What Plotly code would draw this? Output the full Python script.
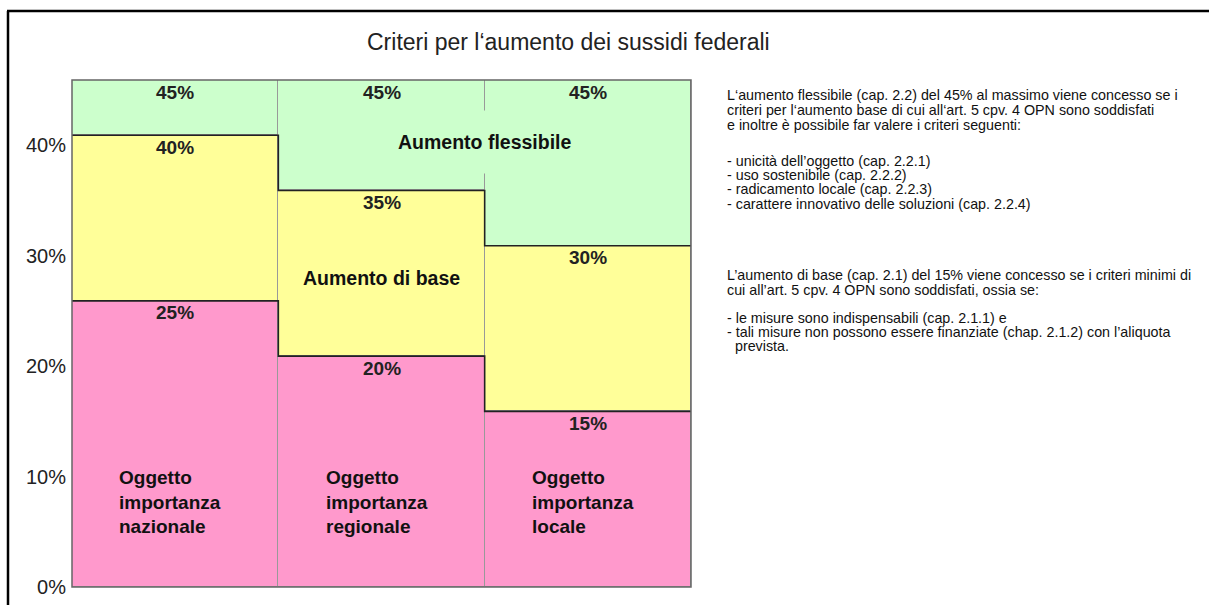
import plotly.graph_objects as go

# ---------------- data ----------------
columns = [0, 1, 2]
column_labels = [
    "Oggetto<br>importanza<br>nazionale",
    "Oggetto<br>importanza<br>regionale",
    "Oggetto<br>importanza<br>locale",
]
object_top = [25, 20, 15]      # pink: Oggetto (importanza)
basic_top = [40, 35, 30]       # yellow: Aumento di base
flex_top = [45, 45, 45]        # green: Aumento flessibile
y_tick_values = [0, 10, 20, 30, 40]
y_tick_labels = ["0%", "10%", "20%", "30%", "40%"]

title_text = "Criteri per l‘aumento dei sussidi federali"
flex_label = "Aumento flessibile"
basic_label = "Aumento di base"

note_flex = [
    "L‘aumento flessibile (cap. 2.2) del 45% al massimo viene concesso se i",
    "criteri per l‘aumento base di cui all‘art. 5 cpv. 4 OPN sono soddisfati",
    "e inoltre è possibile far valere i criteri seguenti:",
    "- unicità dell’oggetto (cap. 2.2.1)",
    "- uso sostenibile (cap. 2.2.2)",
    "- radicamento locale (cap. 2.2.3)",
    "- carattere innovativo delle soluzioni (cap. 2.2.4)",
]
note_basic = [
    "L’aumento di base (cap. 2.1) del 15% viene concesso se i criteri minimi di",
    "cui all’art. 5 cpv. 4 OPN sono soddisfati, ossia se:",
    "- le misure sono indispensabili (cap. 2.1.1) e",
    "- tali misure non possono essere finanziate (chap. 2.1.2) con l’aliquota",
    "\u00a0\u00a0prevista.",
]

# ---------------- layout constants ----------------
W, H = 1209, 605
L, R, T, B = 72, 518, 80, 18
Y_MIN, Y_MAX = -0.9, 45
PINK, YELLOW, GREEN = "#FF99CC", "#FFFF99", "#CCFFCC"
FONT = "Liberation Sans, Arial, sans-serif"
PW, PH = W - L - R, H - T - B


def px2x(px):
    return (px - L) / PW


def py2y(py):
    return (H - B - py) / PH


fig = go.Figure()

outline = dict(color="#999999", width=1)
fig.add_trace(go.Bar(x=columns, y=[t - Y_MIN for t in object_top], base=[Y_MIN] * 3,
                     width=1, marker=dict(color=PINK, line=outline), hoverinfo="skip"))
fig.add_trace(go.Bar(x=columns, y=[b - a for a, b in zip(object_top, basic_top)], base=object_top,
                     width=1, marker=dict(color=YELLOW, line=outline), hoverinfo="skip"))
fig.add_trace(go.Bar(x=columns, y=[f - b for b, f in zip(basic_top, flex_top)], base=basic_top,
                     width=1, marker=dict(color=GREEN, line=outline), hoverinfo="skip"))

# step boundaries between segments
edges = [c - 0.5 for c in columns] + [columns[-1] + 0.5]
for tops in (object_top, basic_top):
    fig.add_trace(go.Scatter(x=edges, y=tops + [tops[-1]], mode="lines",
                             line=dict(color="#222222", width=1.6, shape="hv"),
                             hoverinfo="skip"))

ann = []
# value labels at top of each segment
for tops in (object_top, basic_top, flex_top):
    for c, t in zip(columns, tops):
        ann.append(dict(x=c, y=t, xref="x", yref="y", text=f"{t}%", showarrow=False,
                        yanchor="middle", yshift=-12,
                        font=dict(family=FONT, size=19, color="#222222", weight="bold")))
# column labels
for c, lab in zip(columns, column_labels):
    ann.append(dict(x=c - 0.28, y=6.8, xref="x", yref="y", text=lab, showarrow=False,
                    xanchor="left", yanchor="middle", align="left",
                    font=dict(family=FONT, size=19, color="#111111", weight="bold")))
# segment names
ann.append(dict(x=1.5, y=39.4, xref="x", yref="y", text=flex_label, showarrow=False,
                bgcolor=GREEN, borderpad=20,
                font=dict(family=FONT, size=19.5, color="#111111", weight="bold")))
ann.append(dict(x=1, y=27.1, xref="x", yref="y", text=basic_label, showarrow=False,
                font=dict(family=FONT, size=19.5, color="#111111", weight="bold")))
# title
ann.append(dict(x=px2x(568), y=py2y(42), xref="paper", yref="paper", text=title_text,
                showarrow=False, xanchor="center", yanchor="middle",
                font=dict(family=FONT, size=23, color="#222222")))
# notes
flex_y = [95, 110, 124.5, 161, 175, 189, 203.5]
basic_y = [275, 289.5, 318, 332, 345.5]
for lines, ys in ((note_flex, flex_y), (note_basic, basic_y)):
    for line, py in zip(lines, ys):
        ann.append(dict(x=px2x(725), y=py2y(py), xref="paper", yref="paper", text=line,
                        showarrow=False, xanchor="left", yanchor="middle",
                        font=dict(family=FONT, size=14.3, color="#111111")))

shapes = [
    dict(type="rect", xref="paper", yref="paper", x0=0, x1=1, y0=0, y1=1,
         line=dict(color="#666666", width=1.5)),
    dict(type="line", xref="paper", yref="paper", x0=px2x(7), x1=px2x(W), y0=py2y(11), y1=py2y(11),
         line=dict(color="black", width=2.5)),
    dict(type="line", xref="paper", yref="paper", x0=px2x(8), x1=px2x(8), y0=py2y(11), y1=py2y(H),
         line=dict(color="black", width=2.5)),
]

fig.update_layout(
    template="none",
    width=W, height=H, autosize=False,
    margin=dict(l=L, r=R, t=T, b=B, pad=0),
    paper_bgcolor="white", plot_bgcolor="white",
    barmode="overlay", bargap=0, showlegend=False,
    font=dict(family=FONT),
    annotations=ann, shapes=shapes,
    xaxis=dict(range=[edges[0], edges[-1]], showgrid=False, zeroline=False,
               showticklabels=False, ticks="", showline=False, automargin=False, fixedrange=True),
    yaxis=dict(range=[Y_MIN, Y_MAX], tickvals=y_tick_values, ticktext=y_tick_labels,
               showgrid=False, zeroline=False, ticks="", showline=False, automargin=False,
               tickfont=dict(family=FONT, size=20, color="#222222"),
               ticklabelshift=10, ticklabelstandoff=5, fixedrange=True),
    hovermode=False,
)

fig.write_html("out.html", config={"displayModeBar": False},
               post_script="document.body.style.margin='0px';")
